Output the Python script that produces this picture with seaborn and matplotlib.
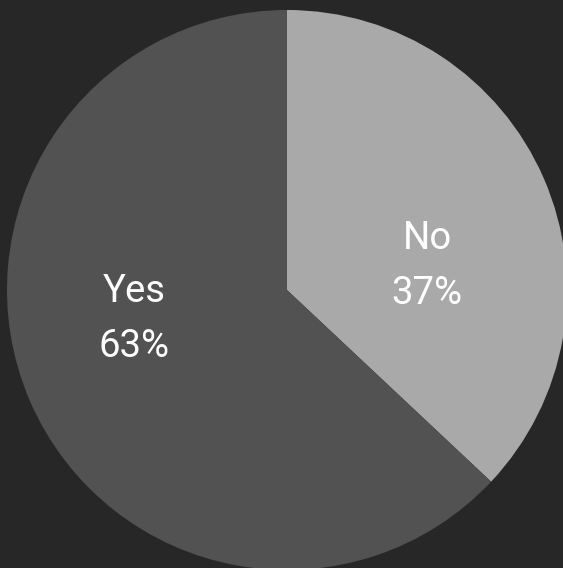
import matplotlib
matplotlib.use("Agg")
import matplotlib.pyplot as plt
import seaborn as sns

# Survey answers and their shares (percent)
answers = ["No", "Yes"]
shares = [37, 63]

# Slice colours
slice_colors = ["#a9a9a9", "#525252"]

# Where each label block sits, in pie data units
label_xy = [(0.50, 0.084), (-0.545, -0.104)]

sns.set_theme(style="white")
plt.rcParams["font.family"] = ["Roboto", "DejaVu Sans"]

W, H, DPI = 563, 568, 100
fig = plt.figure(figsize=(W / DPI, H / DPI), dpi=DPI, facecolor="#272727")

cx, cy, r = 287, 290, 280
ax = fig.add_axes([(cx - r) / W, (H - cy - r) / H, 2 * r / W, 2 * r / H])
ax.set_facecolor("none")

wedges, _ = ax.pie(
    shares,
    colors=slice_colors,
    startangle=90,
    counterclock=False,
    radius=1.0,
    wedgeprops=dict(linewidth=0),
    frame=False,
)
for w in wedges:
    w.set_clip_on(False)

for name, val, (x, y) in zip(answers, shares, label_xy):
    ax.text(x, y, f"{name}\n{val}%", ha="center", va="center",
            color="white", fontsize=27.5, linespacing=1.62)

ax.set_xlim(-1, 1)
ax.set_ylim(-1, 1)
ax.set_aspect("auto")
ax.axis("off")

fig.savefig("out.png", dpi=DPI, facecolor=fig.get_facecolor())
